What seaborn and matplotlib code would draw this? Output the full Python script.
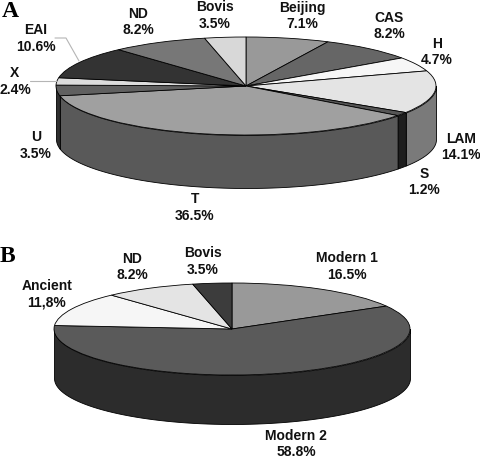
import numpy as np
import matplotlib
matplotlib.use("Agg")
import matplotlib.pyplot as plt
import seaborn as sns

names_a = ["Beijing", "CAS", "H", "LAM", "S", "T", "U", "X", "EAI", "ND", "Bovis"]
values_a = [7.1, 8.2, 4.7, 14.1, 1.2, 36.5, 3.5, 2.4, 10.6, 8.2, 3.5]
tops_a = ["#999999", "#666666", "#f6f6f6", "#e4e4e4", "#555555", "#a0a0a0",
          "#606060", "#dcdcdc", "#333333", "#777777", "#d8d8d8"]
sides_a = ["#555555", "#333333", "#777777", "#7a7a7a", "#1e1e1e", "#595959",
           "#2f2f2f", "#666666", "#1c1c1c", "#3c3c3c", "#666666"]

names_b = ["Modern 1", "Modern 2", "Ancient", "ND", "Bovis"]
values_b = [16.5, 58.8, 11.8, 8.2, 3.5]
pct_b = ["16.5%", "58.8%", "11,8%", "8.2%", "3.5%"]
tops_b = ["#999999", "#5a5a5a", "#f6f6f6", "#e4e4e4", "#3c3c3c"]
sides_b = ["#555555", "#2c2c2c", "#777777", "#777777", "#222222"]

W, H = 480, 458
sns.set_theme(style="white")
plt.rcParams["font.family"] = ["Liberation Sans", "DejaVu Sans"]

fig = plt.figure(figsize=(W / 100, H / 100), dpi=100, facecolor="white")


def draw_pie(values, tops, sides, cx, cy, rx, ry, depth):
    # axes box in pixels, a little padding so the outline is not clipped
    pad = 1.02
    d = depth / ry
    left = (cx - rx * pad) / W
    width = 2 * rx * pad / W
    top_px = cy - ry * pad
    bot_px = cy + ry + depth + ry * (pad - 1)
    ax = fig.add_axes([left, 1 - bot_px / H, width, (bot_px - top_px) / H])

    # side wall of the front half, clockwise angles from 12 o'clock
    edges = np.cumsum([0] + list(values)) / sum(values) * 2 * np.pi
    for i, c in enumerate(sides):
        a0 = max(edges[i], np.pi / 2)
        a1 = min(edges[i + 1], 3 * np.pi / 2)
        if a1 <= a0:
            continue
        t = np.linspace(a0, a1, 80)
        ax.fill_between(np.sin(t), np.cos(t), np.cos(t) - d, facecolor=c,
                        edgecolor="black", linewidth=0.6, zorder=1)

    ax.pie(values, colors=tops, startangle=90, counterclock=False, radius=1,
           wedgeprops={"edgecolor": "black", "linewidth": 0.6, "zorder": 2})
    ax.set_aspect("auto")
    ax.set_xlim(-pad, pad)
    ax.set_ylim(-1 - d - (pad - 1), pad)
    ax.axis("off")
    return ax


draw_pie(values_a, tops_a, sides_a, 246, 86, 190, 49, 53)
draw_pie(values_b, tops_b, sides_b, 232, 329, 178, 46, 49)

# overlay in pixel coordinates for the labels
over = fig.add_axes([0, 0, 1, 1], facecolor="none")
over.set_xlim(0, W)
over.set_ylim(H, 0)
over.axis("off")

pos_a = [(302, 16), (389, 26), (437, 52), (461, 147), (424, 182),
         (195, 207.5), (36, 145.5), (15, 81.5), (36, 38.5), (138, 22), (215, 15.5)]
for name, val, (x, y) in zip(names_a, values_a, pos_a):
    over.text(x, y, f"{name}\n{val}%", ha="center", va="center", fontsize=10,
              fontweight="bold", color="#111111", linespacing=1.24)

pos_b = [(347, 266.5), (296, 444), (47, 294.5), (132, 267), (203, 261.5)]
for name, pct, (x, y) in zip(names_b, pct_b, pos_b):
    over.text(x, y, f"{name}\n{pct}", ha="center", va="center", fontsize=10,
              fontweight="bold", color="#111111", linespacing=1.24)

# leader lines
over.plot([55, 66, 79], [38, 38, 61], color="#b5b5b5", linewidth=0.8)
over.plot([30, 57], [81, 81], color="#b5b5b5", linewidth=0.8)

over.text(2, 17, "A", fontsize=17, fontweight="bold", family="Liberation Serif",
          color="black", ha="left", va="baseline")
over.text(0, 262, "B", fontsize=17, fontweight="bold", family="Liberation Serif",
          color="black", ha="left", va="baseline")

fig.savefig("out.png", dpi=100, facecolor="white")
